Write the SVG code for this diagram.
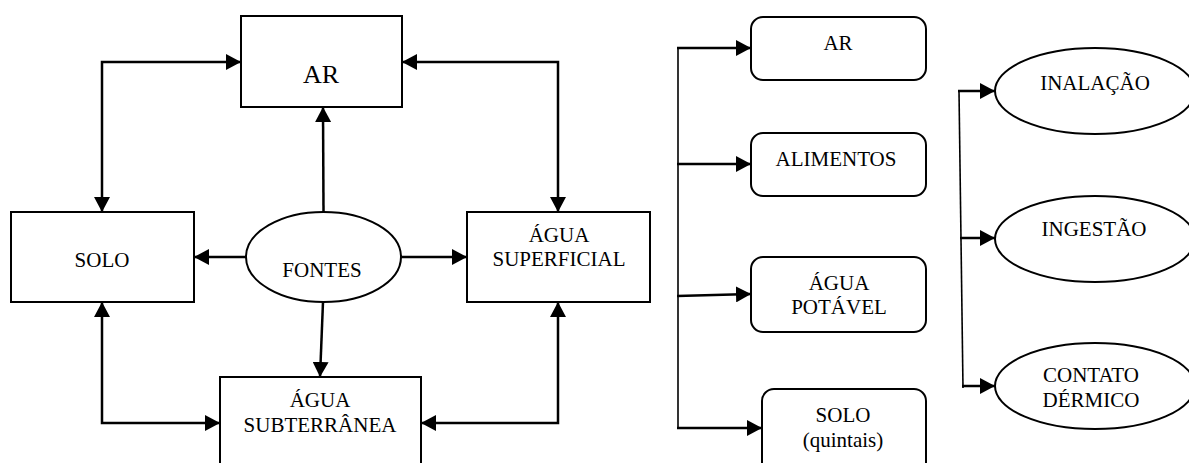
<svg xmlns="http://www.w3.org/2000/svg" width="1189" height="463" viewBox="0 0 1189 463">
<style>
.box{fill:#fff;stroke:#000;stroke-width:2}
.t{font-family:'Liberation Serif','Times New Roman',serif;font-size:21px;fill:#000;text-anchor:middle}
.big{font-size:26px}
.c{fill:none;stroke:#000;stroke-width:2.5}
.thin{fill:none;stroke:#000;stroke-width:1.6}
.a{marker-end:url(#ah)}
.b{marker-start:url(#ah);marker-end:url(#ah)}
</style>
<defs>
<marker id="ah" markerUnits="userSpaceOnUse" markerWidth="15" markerHeight="16" viewBox="0 0 15 16" refX="15" refY="8" orient="auto-start-reverse">
<path d="M0,0 L15,8 L0,16 Z" fill="#000"/>
</marker>
</defs>
<rect width="1189" height="463" fill="#fff"/>
<g id="connectors">
<path class="c b" d="M102,212 V62 H241"/>
<path class="c b" d="M402,62 H558 V212"/>
<path class="c a" d="M323.5,212 L323,107"/>
<path class="c a" d="M246,257 H194"/>
<path class="c a" d="M401,257 H467"/>
<path class="c a" d="M323,302 L320,377"/>
<path class="c b" d="M102,302 V423 H220"/>
<path class="c b" d="M558,302 V423 H421"/>
<path class="thin" d="M678,48 V428"/>
<path class="c a" d="M677,48 H751"/>
<path class="c a" d="M677,164 H751"/>
<path class="c a" d="M677,296 L751,294"/>
<path class="c a" d="M677,428 H762"/>
<path class="thin" d="M959,91 L963,388"/>
<path class="c a" d="M958,91 H995"/>
<path class="c a" d="M960,238 H995"/>
<path class="c a" d="M962,386 H995"/>
</g>
<g id="ar-left">
<rect class="box" x="241" y="16" width="161" height="91"/>
<text class="t big" x="321" y="83">AR</text>
</g>
<g id="solo-left">
<rect class="box" x="11" y="212" width="183" height="90"/>
<text class="t" x="102" y="267">SOLO</text>
</g>
<g id="fontes">
<ellipse class="box" cx="323.5" cy="257" rx="77.5" ry="45"/>
<text class="t" x="322" y="277">FONTES</text>
</g>
<g id="agua-superficial">
<rect class="box" x="467" y="212" width="183" height="90"/>
<text class="t" x="559" y="242">ÁGUA</text>
<text class="t" x="559" y="266">SUPERFICIAL</text>
</g>
<g id="agua-subterranea">
<rect class="box" x="220" y="377" width="201" height="100"/>
<text class="t" x="320" y="407">ÁGUA</text>
<text class="t" x="320" y="432">SUBTERRÂNEA</text>
</g>
<g id="ar-right">
<rect class="box" x="751" y="17" width="175" height="63" rx="12"/>
<text class="t" x="838" y="50">AR</text>
</g>
<g id="alimentos">
<rect class="box" x="751" y="133" width="175" height="63" rx="12"/>
<text class="t" x="836" y="166">ALIMENTOS</text>
</g>
<g id="agua-potavel">
<rect class="box" x="751" y="257" width="175" height="75" rx="12"/>
<text class="t" x="839" y="290">ÁGUA</text>
<text class="t" x="839" y="314">POTÁVEL</text>
</g>
<g id="solo-quintais">
<rect class="box" x="762" y="389" width="164" height="90" rx="12"/>
<text class="t" x="843" y="422">SOLO</text>
<text class="t" x="843" y="447">(quintais)</text>
</g>
<g id="inalacao">
<ellipse class="box" cx="1095" cy="91" rx="100" ry="43"/>
<text class="t" x="1095" y="90">INALAÇÃO</text>
</g>
<g id="ingestao">
<ellipse class="box" cx="1095" cy="239" rx="100" ry="43"/>
<text class="t" x="1094" y="236">INGESTÃO</text>
</g>
<g id="contato-dermico">
<ellipse class="box" cx="1095" cy="386" rx="100" ry="43"/>
<text class="t" x="1091" y="382">CONTATO</text>
<text class="t" x="1091" y="407">DÉRMICO</text>
</g>
</svg>
